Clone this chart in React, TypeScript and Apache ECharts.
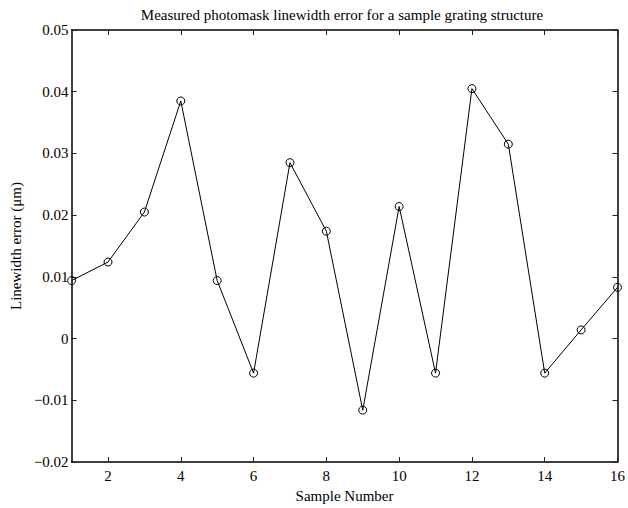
import React, { useEffect, useRef } from "react";
import * as echarts from "echarts";

const samples = [1, 2, 3, 4, 5, 6, 7, 8, 9, 10, 11, 12, 13, 14, 15, 16];
const errors = [
  0.0094, 0.0124, 0.0205, 0.0385, 0.0094, -0.0056, 0.0285, 0.0174,
  -0.0116, 0.0214, -0.0056, 0.0405, 0.0315, -0.0056, 0.0014, 0.0083,
];
const xTicks = [2, 4, 6, 8, 10, 12, 14, 16];
const titleText = "Measured photomask linewidth error for a sample grating structure";
const xName = "Sample Number";
const yName = "Linewidth error (\u03bcm)";

const FONT = "'Liberation Serif', 'Times New Roman', serif";
const FS = 15;

function fmtY(v: number): string {
  const r = Math.round(v * 100) / 100;
  if (r === 0) return "0";
  const s = Math.abs(r).toFixed(2);
  return r < 0 ? "\u2212" + s : s;
}

export default function App() {
  const ref = useRef<HTMLDivElement>(null);
  useEffect(() => {
    if (!ref.current) return;
    const chart = echarts.init(ref.current, undefined, { renderer: "svg" });
    const gridLeft = 63;
    const gridRight = 7;
    const tickStyle = { show: true, inside: true, length: 5, lineStyle: { color: "#222", width: 1 } };
    const axisLine = { show: true, onZero: false, lineStyle: { color: "#000", width: 1.5 } };
    chart.setOption({
      animation: false,
      backgroundColor: "#fff",
      grid: { left: gridLeft, right: gridRight, top: 30, bottom: 40 },
      graphic: [
        {
          type: "text",
          x: gridLeft + (628 - gridLeft - gridRight) / 2,
          y: 15,
          style: {
            text: titleText,
            fontFamily: FONT,
            fontSize: FS,
            fill: "#000",
            textAlign: "center",
            textVerticalAlign: "middle",
          },
        },
      ],
      xAxis: [
        {
          type: "value",
          min: 1,
          max: 16,
          position: "bottom",
          name: xName,
          nameLocation: "middle",
          nameGap: 26,
          nameTextStyle: { fontFamily: FONT, fontSize: FS, color: "#000" },
          axisLine,
          axisTick: { ...tickStyle, customValues: xTicks },
          axisLabel: {
            customValues: xTicks,
            fontFamily: FONT,
            fontSize: FS,
            color: "#000",
            margin: 6,
            showMinLabel: true,
            showMaxLabel: true,
          },
          splitLine: { show: false },
        },
        {
          type: "value",
          min: 1,
          max: 16,
          position: "top",
          axisLine,
          axisTick: { ...tickStyle, customValues: xTicks },
          axisLabel: { show: false },
          splitLine: { show: false },
        },
      ],
      yAxis: [
        {
          type: "value",
          min: -0.02,
          max: 0.05,
          interval: 0.01,
          position: "left",
          name: yName,
          nameLocation: "middle",
          nameGap: 48,
          nameTextStyle: { fontFamily: FONT, fontSize: FS, color: "#000" },
          axisLine,
          axisTick: tickStyle,
          axisLabel: {
            formatter: fmtY,
            fontFamily: FONT,
            fontSize: FS,
            color: "#000",
            margin: 3,
          },
          splitLine: { show: false },
        },
        {
          type: "value",
          min: -0.02,
          max: 0.05,
          interval: 0.01,
          position: "right",
          axisLine,
          axisTick: tickStyle,
          axisLabel: { show: false },
          splitLine: { show: false },
        },
      ],
      series: [
        {
          type: "line",
          xAxisIndex: 0,
          yAxisIndex: 0,
          data: samples.map((s, i) => [s, errors[i]]),
          symbol: "circle",
          symbolSize: 8,
          showAllSymbol: true,
          lineStyle: { color: "#000", width: 1 },
          itemStyle: { color: "rgba(255,255,255,0)", borderColor: "#000", borderWidth: 1 },
          emphasis: { disabled: true },
          clip: false,
        },
      ],
    });
    return () => chart.dispose();
  }, []);
  return (
    <div
      ref={ref}
      style={{ position: "fixed", left: 0, top: 0, width: 628, height: 508, background: "#fff" }}
    />
  );
}
